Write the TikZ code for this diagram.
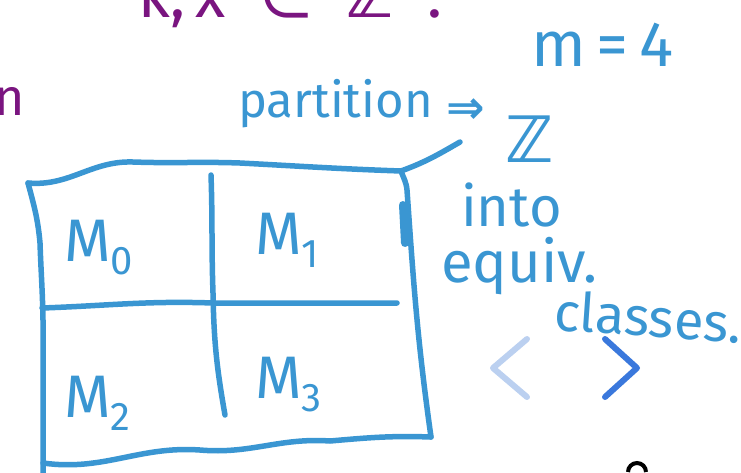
\documentclass[tikz,border=0pt]{standalone}
\usepackage{fontspec}
\usepackage{unicode-math}
\setmainfont{Fira Sans}
\setmathfont{Latin Modern Math}
\newfontfamily\dejavu{DejaVu Sans}
\definecolor{ink}{HTML}{3A96D2}
\definecolor{plum}{HTML}{7A1580}
\definecolor{navlight}{HTML}{BBD0F0}
\definecolor{navdark}{HTML}{3A78DC}
\tikzset{
  pen/.style={draw=ink, line width=5.5pt, line cap=round, line join=round},
  note/.style={text=ink, inner sep=0pt, anchor=base west},
  cell/.style={text=ink, inner sep=0pt, anchor=base west, font=\fontsize{60}{60}\selectfont},
  chev/.style={line width=6pt, line cap=round, line join=round}
}
\newcommand{\sub}[1]{\raisebox{-0.22em}{\fontsize{40}{40}\selectfont #1}}
\begin{document}
\begin{tikzpicture}[x=1pt,y=-1pt]
\useasboundingbox (0,0) rectangle (741,472);
\clip (0,0) rectangle (741,472);
% purple, cut off at the top
\node[text=plum, inner sep=0pt, anchor=base west, font=\fontsize{62}{62}\selectfont] (top) at (138,17) {k,\,x\; {\dejavu ∈}\; {\dejavu\bfseries ℤ}\;\;.};
\node[text=plum, inner sep=0pt, anchor=base west, font=\fontsize{52}{52}\selectfont] (n) at (-6,115) {n};
% blue notes
\node[note, font=\fontsize{64}{64}\selectfont] (m) at (531,66) {m\,=\,4};
\node[note, font=\fontsize{49}{49}\selectfont] (part) at (238,117) {partition};
\node[text=ink, inner sep=0pt, font=\dejavu\bfseries\fontsize{46}{46}\selectfont] (arr) at (466,111) {⇒};
\node[text=ink, inner sep=0pt, font=\dejavu\bfseries\fontsize{64}{64}\selectfont] (zz) at (530,139) {ℤ};
\node[note, font=\fontsize{56}{56}\selectfont] (into) at (461,226) {into};
\node[note, font=\fontsize{58}{58}\selectfont] (equiv) at (441,282) {equiv.};
\node[note, font=\fontsize{54}{54}\selectfont, rotate=-4] (classes) at (553,330) {classes.};
% the box
\coordinate (tl) at (28,183);
\coordinate (tr) at (401,171);
\coordinate (br) at (431,437);
\coordinate (bl) at (43,463);
\draw[pen] (tl) to[out=-5,in=178] (133,162) to[out=-2,in=178] (240,163) to[out=-3,in=178] (tr)
  to[out=-70,in=95] (407,190) to[out=-86,in=98] (431,437);
\draw[pen] (br) to[out=178,in=5] (330,441) to[out=176,in=-5] (200,450) to[out=176,in=-8] (bl);
\draw[pen] (tl) to[out=-75,in=95] (40,243) to[out=-88,in=91] (43,320) -- (43,480);
\draw[pen] (211,175) to[out=-88,in=92] (213,293) to[out=-89,in=100] (225,415);
\draw[pen] (42,308) to[out=2,in=178] (213,303) to[out=0,in=180] (397,303);
\draw[pen, line width=8pt] (403,205) -- (405,243);
% connector from the box to the note
\coordinate (hook) at (460,142);
\draw[pen] (tr) to[out=20,in=-150] (hook);
% cells
\node[cell] (m0) at (64,261) {M\sub{0}};
\node[cell] (m1) at (255,254) {M\sub{1}};
\node[cell] (m2) at (64,417) {M\sub{2}};
\node[cell] (m3) at (255,398) {M\sub{3}};
% navigation chevrons
\coordinate (la) at (527,339); \coordinate (lb) at (493,368); \coordinate (lc) at (527,397);
\coordinate (ra) at (605,339); \coordinate (rb) at (637,368); \coordinate (rc) at (605,397);
\draw[chev, draw=navlight] (la) -- (lb) -- (lc);
\draw[chev, draw=navdark] (ra) -- (rb) -- (rc);
% black mark cut off at the bottom
\coordinate (q) at (637,472);
\draw[line width=4pt] ([xshift=-9pt]q) arc[start angle=180, end angle=0, radius=9pt];
\end{tikzpicture}
\end{document}
